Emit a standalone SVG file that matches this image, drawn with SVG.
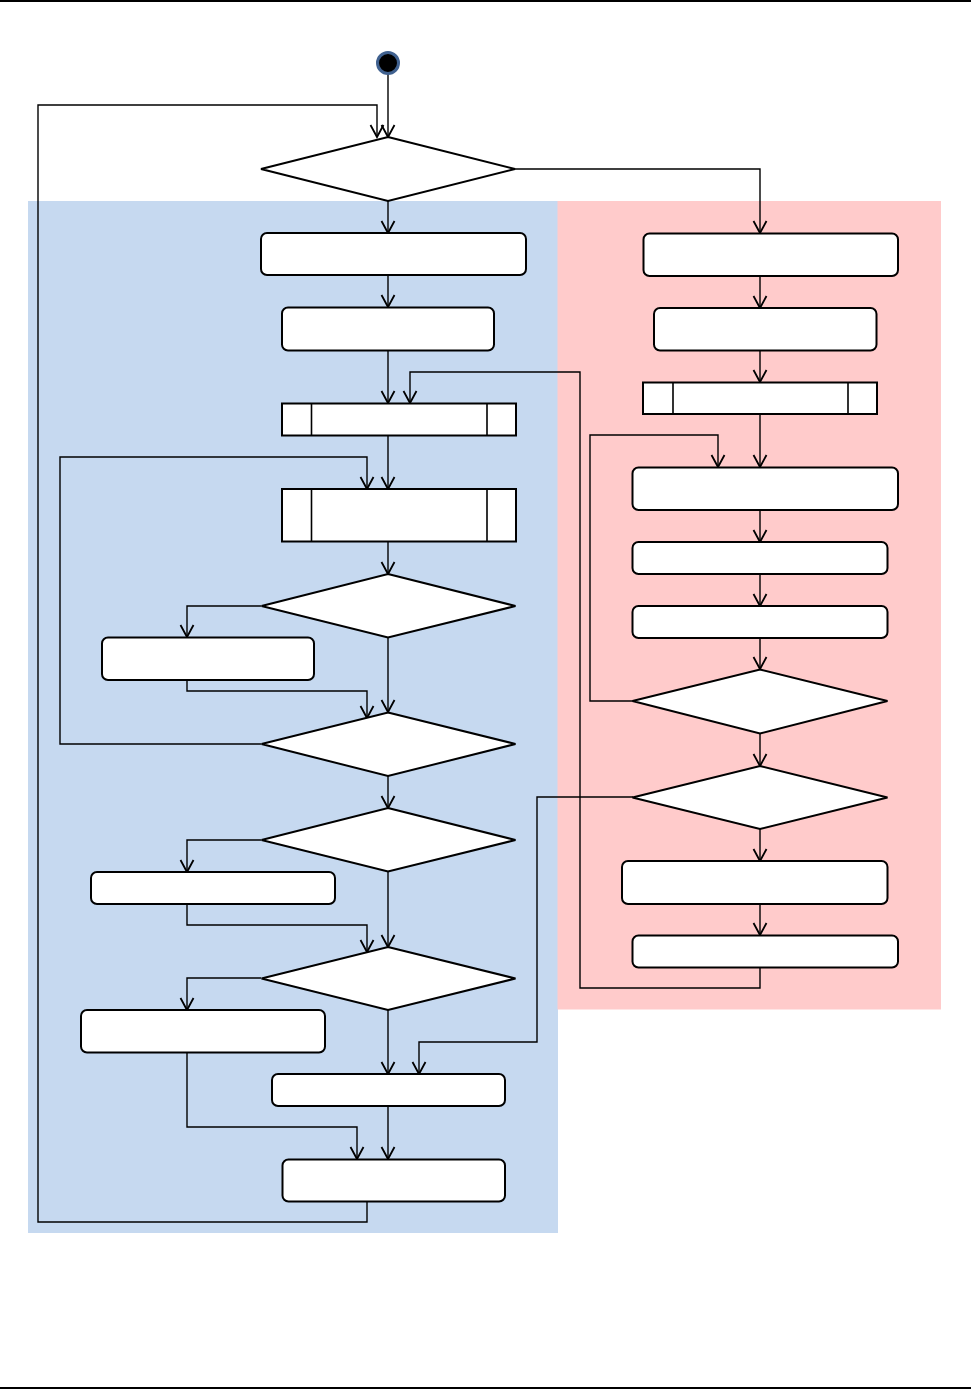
<svg xmlns="http://www.w3.org/2000/svg" width="971" height="1390" viewBox="0 0 971 1390">
<style>
.sh{fill:#fff;stroke:#000;stroke-width:2}
.in{stroke:#000;stroke-width:1.6;fill:none}
.c{fill:none;stroke:#000;stroke-width:1.4}
.a{marker-end:url(#arr)}
</style>
<defs>
<marker id="arr" markerUnits="userSpaceOnUse" markerWidth="14" markerHeight="14" refX="12" refY="6.5" orient="auto" overflow="visible">
<path d="M0,0 L12,6.5 L0,13" fill="none" stroke="#000" stroke-width="1.8"/>
</marker>
</defs>
<rect x="0" y="0" width="971" height="1390" fill="#fff"/>
<rect x="0" y="0" width="971" height="2" fill="#000"/>
<rect x="0" y="1387" width="971" height="2" fill="#000"/>
<g id="lanes">
<rect x="28" y="201" width="530" height="1032" fill="#c6d9f0"/>
<rect x="557.5" y="201" width="383.5" height="808.5" fill="#ffcbcb"/>
</g>
<g id="connectors">
<path class="c a" d="M388,74 V137"/>
<path class="c a" d="M367,1201 V1222 H38 V105 H377 V137"/>
<path class="c a" d="M515,169 H760 V233"/>
<path class="c a" d="M388,201 V233"/>
<path class="c a" d="M388,275 V307"/>
<path class="c a" d="M388,350 V403"/>
<path class="c a" d="M760,967 V988 H580 V372 H410 V403"/>
<path class="c a" d="M388,435 V489"/>
<path class="c a" d="M261,744 H60 V457 H367 V489"/>
<path class="c a" d="M388,541 V574"/>
<path class="c a" d="M261,606 H187 V637"/>
<path class="c a" d="M187,680 V691 H367 V718"/>
<path class="c a" d="M388,637 V712"/>
<path class="c a" d="M388,776 V808"/>
<path class="c a" d="M261,840 H187 V872"/>
<path class="c a" d="M187,904 V925 H367 V952"/>
<path class="c a" d="M388,871 V947"/>
<path class="c a" d="M261,978 H187 V1010"/>
<path class="c a" d="M388,1010 V1074"/>
<path class="c a" d="M633,797 H537 V1042 H419 V1074"/>
<path class="c a" d="M187,1052 V1127 H357 V1159"/>
<path class="c a" d="M388,1106 V1159"/>
<path class="c a" d="M760,276 V308"/>
<path class="c a" d="M760,350 V382"/>
<path class="c a" d="M760,414 V467"/>
<path class="c a" d="M633,701 H590 V435 H718 V467"/>
<path class="c a" d="M760,510 V542"/>
<path class="c a" d="M760,574 V606"/>
<path class="c a" d="M760,638 V669"/>
<path class="c a" d="M760,733 V766"/>
<path class="c a" d="M760,829 V861"/>
<path class="c a" d="M760,904 V935"/>
</g>
<g id="start"><circle cx="388" cy="63" r="10.5" fill="#000" stroke="#40618f" stroke-width="3"/></g>
<g id="d1"><polygon class="sh" points="388,137 515,169 388,201 261,169"/></g>
<g id="boxA"><rect class="sh" x="261" y="233" width="265" height="42" rx="6"/></g>
<g id="boxB"><rect class="sh" x="282" y="307.5" width="212" height="43" rx="6"/></g>
<g id="subC"><rect class="sh" x="282" y="403.5" width="234" height="32"/><path class="in" d="M311.5,403.5 V435.5 M487,403.5 V435.5"/></g>
<g id="subD"><rect class="sh" x="282" y="489" width="234" height="52.5"/><path class="in" d="M311.5,489 V541.5 M487,489 V541.5"/></g>
<g id="d3"><polygon class="sh" points="388,574 515.5,606 388,637.5 261.5,606"/></g>
<g id="boxE"><rect class="sh" x="102" y="637.5" width="212" height="42.5" rx="6"/></g>
<g id="d4"><polygon class="sh" points="388,712.5 515.5,744 388,776 261.5,744"/></g>
<g id="d5"><polygon class="sh" points="388,808 515.5,840 388,871.5 261.5,840"/></g>
<g id="boxF"><rect class="sh" x="91" y="872" width="244" height="32" rx="6"/></g>
<g id="d6"><polygon class="sh" points="388,947 515.5,978.5 388,1010 261.5,978.5"/></g>
<g id="boxG"><rect class="sh" x="81" y="1010" width="244" height="42.5" rx="6"/></g>
<g id="boxH"><rect class="sh" x="272" y="1074" width="233" height="32" rx="6"/></g>
<g id="boxI"><rect class="sh" x="282.5" y="1159.5" width="222.5" height="42" rx="6"/></g>
<g id="boxJ"><rect class="sh" x="643.5" y="233.5" width="254.5" height="42.5" rx="6"/></g>
<g id="boxK"><rect class="sh" x="654" y="308" width="222.5" height="42.5" rx="6"/></g>
<g id="subL"><rect class="sh" x="643" y="382.5" width="234" height="31.5"/><path class="in" d="M673,382.5 V414 M848,382.5 V414"/></g>
<g id="boxM"><rect class="sh" x="632.5" y="467.5" width="265.5" height="42.5" rx="6"/></g>
<g id="boxN"><rect class="sh" x="632.5" y="542" width="255" height="32" rx="6"/></g>
<g id="boxO"><rect class="sh" x="632.5" y="606" width="255" height="32" rx="6"/></g>
<g id="d7"><polygon class="sh" points="760,669.5 887.5,701 760,733.5 632.5,701"/></g>
<g id="d8"><polygon class="sh" points="760,766 887.5,797.5 760,829 632.5,797.5"/></g>
<g id="boxP"><rect class="sh" x="622" y="861" width="265.5" height="43" rx="6"/></g>
<g id="boxQ"><rect class="sh" x="632.5" y="935.5" width="265.5" height="32" rx="6"/></g>
</svg>
